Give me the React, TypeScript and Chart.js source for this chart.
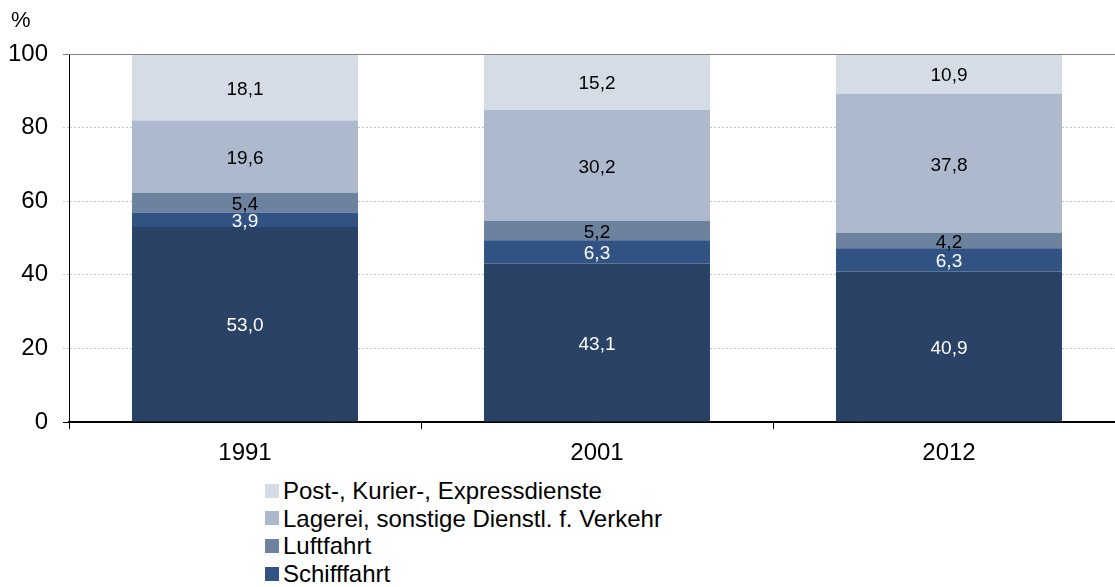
import React, { useEffect, useRef } from "react";
import { Chart, registerables } from "chart.js";

Chart.register(...registerables);

const categories = ["1991", "2001", "2012"];
const seriesNames = [
  "Landverkehr",
  "Schifffahrt",
  "Luftfahrt",
  "Lagerei, sonstige Dienstl. f. Verkehr",
  "Post-, Kurier-, Expressdienste",
];
const landverkehr = [53.0, 43.1, 40.9];
const schifffahrt = [3.9, 6.3, 6.3];
const luftfahrt = [5.4, 5.2, 4.2];
const lagerei = [19.6, 30.2, 37.8];
const post = [18.1, 15.2, 10.9];
const seriesColors = ["#2a4266", "#315384", "#6d829f", "#adb9cc", "#d5dce6"];
const labelColors = ["#ffffff", "#ffffff", "#000000", "#000000", "#000000"];
const legendShown = [4, 3, 2, 1];
const yTicks = [0, 20, 40, 60, 80, 100];
const unitLabel = "%";

const FONT = "'Liberation Sans', Arial, sans-serif";

const fmt = (v: number) => v.toFixed(1).replace(".", ",");

const valueLabels = {
  id: "valueLabels",
  afterDatasetsDraw(chart: any) {
    const ctx = chart.ctx;
    const yScale = chart.scales.y;
    const { left, right } = chart.chartArea;
    const yTop = Math.round(yScale.getPixelForValue(100)) + 0.5;
    ctx.save();
    ctx.strokeStyle = "#808080";
    ctx.lineWidth = 1;
    ctx.beginPath();
    ctx.moveTo(left, yTop);
    ctx.lineTo(right, yTop);
    ctx.stroke();
    ctx.font = `19px ${FONT}`;
    ctx.textAlign = "center";
    ctx.textBaseline = "middle";
    chart.data.datasets.forEach((ds: any, di: number) => {
      const meta = chart.getDatasetMeta(di);
      meta.data.forEach((el: any, i: number) => {
        const v = ds.data[i];
        const cy = (el.y + el.base) / 2 + 2;
        ctx.fillStyle = labelColors[di];
        ctx.fillText(fmt(v), el.x, cy);
      });
    });
    ctx.fillStyle = "#000";
    ctx.font = `22px ${FONT}`;
    ctx.textAlign = "left";
    ctx.fillText(unitLabel, 11, 21);
    ctx.restore();
  },
};

export default function App() {
  const ref = useRef<HTMLCanvasElement | null>(null);
  useEffect(() => {
    if (!ref.current) return;
    const seriesData = [landverkehr, schifffahrt, luftfahrt, lagerei, post];
    const chart = new Chart(ref.current, {
      type: "bar",
      data: {
        labels: categories,
        datasets: seriesData.map((d, i) => ({
          label: seriesNames[i],
          data: d,
          backgroundColor: seriesColors[i],
          borderWidth: 0,
          categoryPercentage: 0.642,
          barPercentage: 1,
        })),
      },
      options: {
        responsive: false,
        animation: false,
        devicePixelRatio: 1,
        layout: { padding: { top: 54, left: 0, right: 2, bottom: 0 } },
        plugins: {
          legend: { display: false },
          tooltip: { enabled: false },
        },
        scales: {
          x: {
            stacked: true,
            grid: {
              offset: true,
              drawOnChartArea: false,
              drawTicks: true,
              tickLength: 7,
              tickColor: "#000",
            },
            border: { display: true, color: "#000", width: 1.5 },
            ticks: {
              color: "#000",
              font: { family: FONT, size: 24 },
              padding: 10,
              maxRotation: 0,
            },
            afterFit: (s: any) => {
              s.height = 48;
            },
          },
          y: {
            stacked: true,
            min: 0,
            max: 100,
            afterBuildTicks: (s: any) => {
              s.ticks = yTicks.map((v) => ({ value: v }));
            },
            grid: {
              color: (c: any) => (c.tick && c.tick.value === 100 ? "#808080" : c.tick && c.tick.value === 0 ? "#000" : "#c4c4c4"),
              tickColor: (c: any) => (c.tick && c.tick.value === 100 ? "#808080" : c.tick && c.tick.value === 0 ? "#000" : "#c4c4c4"),
              tickBorderDash: (c: any) => (c.tick && (c.tick.value === 100 || c.tick.value === 0) ? [] : [2, 2]),
              lineWidth: 1,
              tickLength: 6,
              drawTicks: true,
            },
            border: {
              display: true,
              color: "#000",
              width: 1,
              dash: (c: any) => (c.tick && (c.tick.value === 100 || c.tick.value === 0) ? [] : [2, 2]),
            },
            ticks: {
              color: "#000",
              font: { family: FONT, size: 24 },
              padding: 15,
            },
            afterFit: (s: any) => {
              s.width = 69;
            },
          },
        },
      },
      plugins: [valueLabels],
    });
    return () => chart.destroy();
  }, []);

  return (
    <div
      style={{
        position: "fixed",
        left: 0,
        top: 0,
        width: 1115,
        height: 587,
        overflow: "hidden",
        background: "#fff",
        fontFamily: FONT,
      }}
    >
      <canvas ref={ref} width={1127} height={470} style={{ position: "absolute", left: 0, top: 0 }} />
      <div style={{ position: "absolute", left: 265, top: 477 }}>
        {legendShown.map((i) => (
          <div key={i} style={{ display: "flex", alignItems: "center", height: 27.6 }}>
            <span
              style={{
                display: "inline-block",
                width: 14,
                height: 14,
                background: seriesColors[i],
                marginRight: 4,
              }}
            />
            <span style={{ fontSize: 24, color: "#000", whiteSpace: "nowrap", lineHeight: "27.6px" }}>
              {seriesNames[i]}
            </span>
          </div>
        ))}
      </div>
    </div>
  );
}
